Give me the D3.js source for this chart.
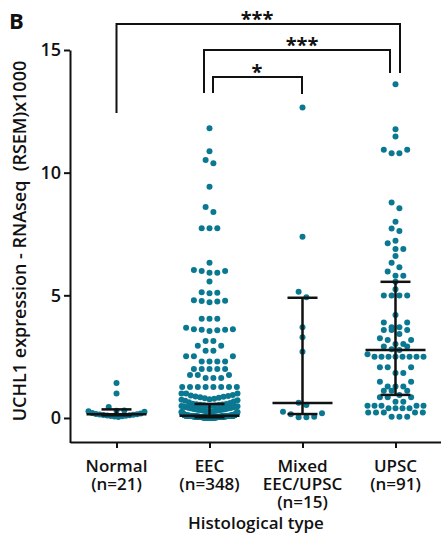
<!DOCTYPE html>
<html>
<head>
<meta charset="utf-8">
<script src="https://cdn.jsdelivr.net/npm/d3@7"></script>
<style>
  body { margin: 0; background: #fff; }
  svg text { font-family: "Open Sans", sans-serif; fill: #111; }
</style>
</head>
<body>
<svg id="mainSvg"></svg>
<script>
// categories and labels
const categories = ["Normal", "EEC", "Mixed EEC/UPSC", "UPSC"];
const labelLines = [["Normal", "(n=21)"], ["EEC", "(n=348)"], ["Mixed", "EEC/UPSC", "(n=15)"], ["UPSC", "(n=91)"]];
const yTicks = [0, 5, 10, 15];

// median / interquartile range
const medians = [0.15, 0.09, 0.61, 2.77];
const q1s = [0.11, 0.03, 0.16, 0.94];
const q3s = [0.35, 0.57, 4.9, 5.55];

// significance comparisons
const comparisons = [["Normal", "UPSC", "***"], ["EEC", "UPSC", "***"], ["EEC", "Mixed EEC/UPSC", "*"]];

// per-sample values (RSEM x1000)
const normalVals = [1.43, 1.0, 0.45, 0.30, 0.29, 0.27, 0.25, 0.2, 0.18, 0.16, 0.15, 0.14, 0.13, 0.12, 0.11, 0.1, 0.09, 0.08, 0.07, 0.06, 0.04];

const eecHigh = [11.81, 10.87, 10.52, 10.38, 9.43, 8.6, 8.4, 7.73, 7.73, 7.73, 6.33, 6.03, 5.99, 5.99, 5.92, 5.92, 5.56,
  5.12, 5.1, 5.08, 4.8, 4.78, 4.77, 4.75, 4.72, 4.04, 4.04, 4.04, 3.68, 3.62, 3.6, 3.58, 3.55, 3.6, 3.62,
  3.14, 3.14, 2.94, 2.94, 2.74, 2.74, 2.52, 2.52, 2.52, 2.3, 2.3, 2.3, 2.3, 2.0, 2.0, 2.0, 2.0, 2.0,
  1.75, 1.75, 1.75, 1.63, 1.63, 1.63, 1.26, 1.26, 1.26, 1.26, 1.26, 1.26, 1.26, 1.26, 1.0, 1.0, 1.0];
const eecLow = [0.94, 0.92, 0.9, 0.88, 0.86, 0.84, 0.82, 0.8, 0.78, 0.76, 0.74, 0.72, 0.7, 0.67, 0.64, 0.61, 0.58,
  0.57, 0.56, 0.55, 0.54, 0.53, 0.52, 0.51, 0.5, 0.49, 0.48, 0.47, 0.46, 0.45, 0.44, 0.43, 0.42, 0.41, 0.4, 0.39, 0.38,
  0.37, 0.36, 0.35, 0.34, 0.33, 0.32, 0.31, 0.3, 0.29, 0.28, 0.27, 0.26, 0.25, 0.24, 0.23, 0.22, 0.21, 0.2, 0.19, 0.18,
  0.17, 0.16, 0.15, 0.14, 0.13, 0.12, 0.11, 0.1, 0.1, 0.1, 0.5, 0.45, 0.4, 0.36, 0.33, 0.3, 0.28, 0.26, 0.24, 0.22,
  0.2, 0.19, 0.18, 0.17, 0.16, 0.15, 0.14, 0.13, 0.12, 0.12, 0.11, 0.11, 0.11, 0.1, 0.1, 0.1, 0.1, 0.1, 0.1, 0.1,
  0.1, 0.1, 0.1, 0.1, 0.1, 0.1, 0.1,
  0.09, 0.09, 0.09, 0.09, 0.09, 0.09, 0.09, 0.09, 0.09, 0.09, 0.09, 0.09, 0.09, 0.09, 0.09, 0.09, 0.09, 0.09, 0.09, 0.09,
  0.08, 0.08, 0.08, 0.08, 0.08, 0.08, 0.08, 0.08, 0.08, 0.08, 0.08, 0.08, 0.08, 0.08, 0.08, 0.08, 0.08, 0.08, 0.08, 0.08,
  0.07, 0.07, 0.07, 0.07, 0.07, 0.07, 0.07, 0.07, 0.07, 0.07, 0.07, 0.07, 0.07, 0.07, 0.07, 0.07, 0.07, 0.07, 0.07, 0.07,
  0.06, 0.06, 0.06, 0.06, 0.06, 0.06, 0.06, 0.06, 0.06, 0.06, 0.06, 0.06, 0.06, 0.06, 0.06, 0.06, 0.06, 0.06,
  0.05, 0.05, 0.05, 0.05, 0.05, 0.05, 0.05, 0.05, 0.05, 0.05, 0.05, 0.05, 0.05, 0.05, 0.05, 0.05, 0.05, 0.05,
  0.04, 0.04, 0.04, 0.04, 0.04, 0.04, 0.04, 0.04, 0.04, 0.04, 0.04, 0.04, 0.04, 0.04, 0.04, 0.04, 0.04, 0.04,
  0.03, 0.03, 0.03, 0.03, 0.03, 0.03, 0.03, 0.03, 0.03, 0.03, 0.03, 0.03, 0.03, 0.03, 0.03, 0.03, 0.03, 0.03,
  0.02, 0.02, 0.02, 0.02, 0.02, 0.02, 0.02, 0.02, 0.02, 0.02, 0.02, 0.02, 0.02, 0.02, 0.02, 0.02,
  0.01, 0.01, 0.01, 0.01, 0.01, 0.01, 0.01, 0.01, 0.01, 0.01, 0.01, 0.01, 0.01, 0.01,
  0, 0, 0, 0, 0, 0, 0, 0, 0, 0, 0, 0];

const mixedVals = [12.66, 7.39, 5.15, 4.92, 3.70, 3.29, 2.70, 0.62, 0.53, 0.25, 0.19, 0.15, 0.05, 0.03, 0.03];

const upscVals = [13.6, 11.77, 11.47, 10.93, 10.93, 10.79, 10.79, 8.78, 8.55, 8.0, 7.72, 7.62, 7.22, 7.12, 6.89, 6.89,
  6.6, 6.33, 6.14, 5.97, 5.8, 5.8, 5.55, 5.25, 4.99, 4.99, 4.99, 4.99, 4.2, 3.89, 3.89, 3.70, 3.70, 3.59, 3.59, 3.59,
  3.42, 3.25, 3.18, 3.18, 3.02, 3.02, 2.91, 2.91, 2.8, 2.77, 2.6, 2.5, 2.5, 2.5, 2.5, 2.5, 2.5, 2.5, 2.5,
  2.07, 2.07, 2.07, 1.83, 1.83, 1.48, 1.48, 1.28, 1.28, 1.28, 1.11, 1.11, 1.11, 0.94,
  0.84, 0.84, 0.84, 0.66, 0.66, 0.5, 0.5, 0.5, 0.5, 0.5, 0.4, 0.4, 0.4, 0.4, 0.22, 0.22, 0.22, 0.22, 0.22, 0.05, 0.05, 0.05];

const groups = [normalVals, eecHigh.concat(eecLow), mixedVals, upscVals];

const [w, h] = [441, 558];
const svg = d3.select("#mainSvg").attr("width", w).attr("height", h);

const x = d3.scalePoint().domain(categories).range([70, 442]).padding(0.5);
const y = d3.scaleLinear().domain([-1, 15]).range([442.5, 50]);

const dotColor = "#0b7891";
const [r, spacing, maxSpread, binPx] = [3, 7.8, 56, 6];

// simple row-based swarm: group values into rows, spread each row around the center
const swarm = (vals, cx) => {
  const sorted = vals.slice().sort((a, b) => a - b);
  const bins = [];
  let cur = null;
  sorted.forEach(v => {
    if (!cur || y(cur.start) - y(v) > binPx) {
      cur = {start: v, vals: []};
      bins.push(cur);
    }
    cur.vals.push(v);
  });
  const pts = [];
  bins.forEach(b => {
    const k = b.vals.length;
    const step = k > 1 ? Math.min(spacing, maxSpread / (k - 1)) : 0;
    const offs = d3.range(k).map(i => (i - (k - 1) / 2) * step);
    offs.sort((a, c) => (Math.abs(a) - Math.abs(c)) || (c - a));
    b.vals.forEach((v, i) => pts.push({v: v, x: cx + offs[i]}));
  });
  return pts;
};

// axes
const yAxis = d3.axisLeft(y).tickValues(yTicks).tickSize(6).tickSizeOuter(0).tickPadding(3);
const yg = svg.append("g").attr("transform", "translate(70,0)").call(yAxis);
yg.select(".domain").attr("stroke", "#111").attr("stroke-width", 2);
yg.selectAll(".tick line").attr("stroke", "#111").attr("stroke-width", 2);
yg.selectAll(".tick text").style("font-size", "18px").style("font-weight", 600).style("font-family", "'Open Sans', sans-serif").attr("fill", "#111");

const xAxis = d3.axisBottom(x).tickSize(6).tickSizeOuter(0).tickFormat("");
const xg = svg.append("g").attr("transform", "translate(0,442)").call(xAxis);
xg.select(".domain").attr("stroke", "#111").attr("stroke-width", 2);
xg.selectAll(".tick line").attr("stroke", "#111").attr("stroke-width", 2);

// category labels
const labelBase = [472, 490, 508];
categories.forEach((c, i) => {
  labelLines[i].forEach((line, j) => {
    svg.append("text").attr("x", x(c)).attr("y", labelBase[j]).attr("text-anchor", "middle")
      .style("font-size", "17px").style("font-weight", 600).text(line);
  });
});
svg.append("text").attr("x", 256).attr("y", 529).attr("text-anchor", "middle")
  .style("font-size", "17px").style("font-weight", 600).text("Histological type");

svg.append("text").attr("transform", "translate(26,241) rotate(-90)").attr("text-anchor", "middle")
  .style("font-size", "18px").style("font-weight", 600).style("white-space", "pre")
  .text("UCHL1 expression - RNAseq  (RSEM)x1000");

svg.append("text").attr("x", 9).attr("y", 29).style("font-size", "22px").style("font-weight", 700).text("B");

// dots
groups.forEach((vals, i) => {
  svg.append("g").selectAll("circle").data(swarm(vals, x(categories[i]))).enter().append("circle")
    .attr("cx", d => d.x).attr("cy", d => y(d.v)).attr("r", r).attr("fill", dotColor);
});

// median + IQR bars
const bars = svg.append("g").attr("stroke", "#111").attr("stroke-width", 2.5);
categories.forEach((c, i) => {
  const cx = x(c);
  bars.append("line").attr("x1", cx).attr("x2", cx).attr("y1", y(q1s[i])).attr("y2", y(q3s[i]));
  bars.append("line").attr("x1", cx - 30).attr("x2", cx + 30).attr("y1", y(medians[i])).attr("y2", y(medians[i]));
  [q1s[i], q3s[i]].forEach(q => {
    bars.append("line").attr("x1", cx - 15).attr("x2", cx + 15).attr("y1", y(q)).attr("y2", y(q));
  });
});

// significance brackets
const bracketLayout = [
  {top: 24, dropL: 113, dropR: 73, offL: 0, offR: 4.5, tx: 257},
  {top: 50, dropL: 93, dropR: 73, offL: -5.5, offR: -5.5, tx: 302},
  {top: 77, dropL: 93, dropR: 94, offL: 3.5, offR: -0.5, tx: 257}
];
comparisons.forEach((cmp, i) => {
  const L = bracketLayout[i];
  const xl = x(cmp[0]) + L.offL, xr = x(cmp[1]) + L.offR;
  svg.append("path").attr("fill", "none").attr("stroke", "#111").attr("stroke-width", 2)
    .attr("d", `M${xl},${L.dropL}V${L.top}H${xr}V${L.dropR}`);
  svg.append("text").attr("x", L.tx).attr("y", L.top + 2).attr("text-anchor", "middle")
    .style("font-size", "20px").style("font-weight", 700).text(cmp[2]);
});
</script>
</body>
</html>
